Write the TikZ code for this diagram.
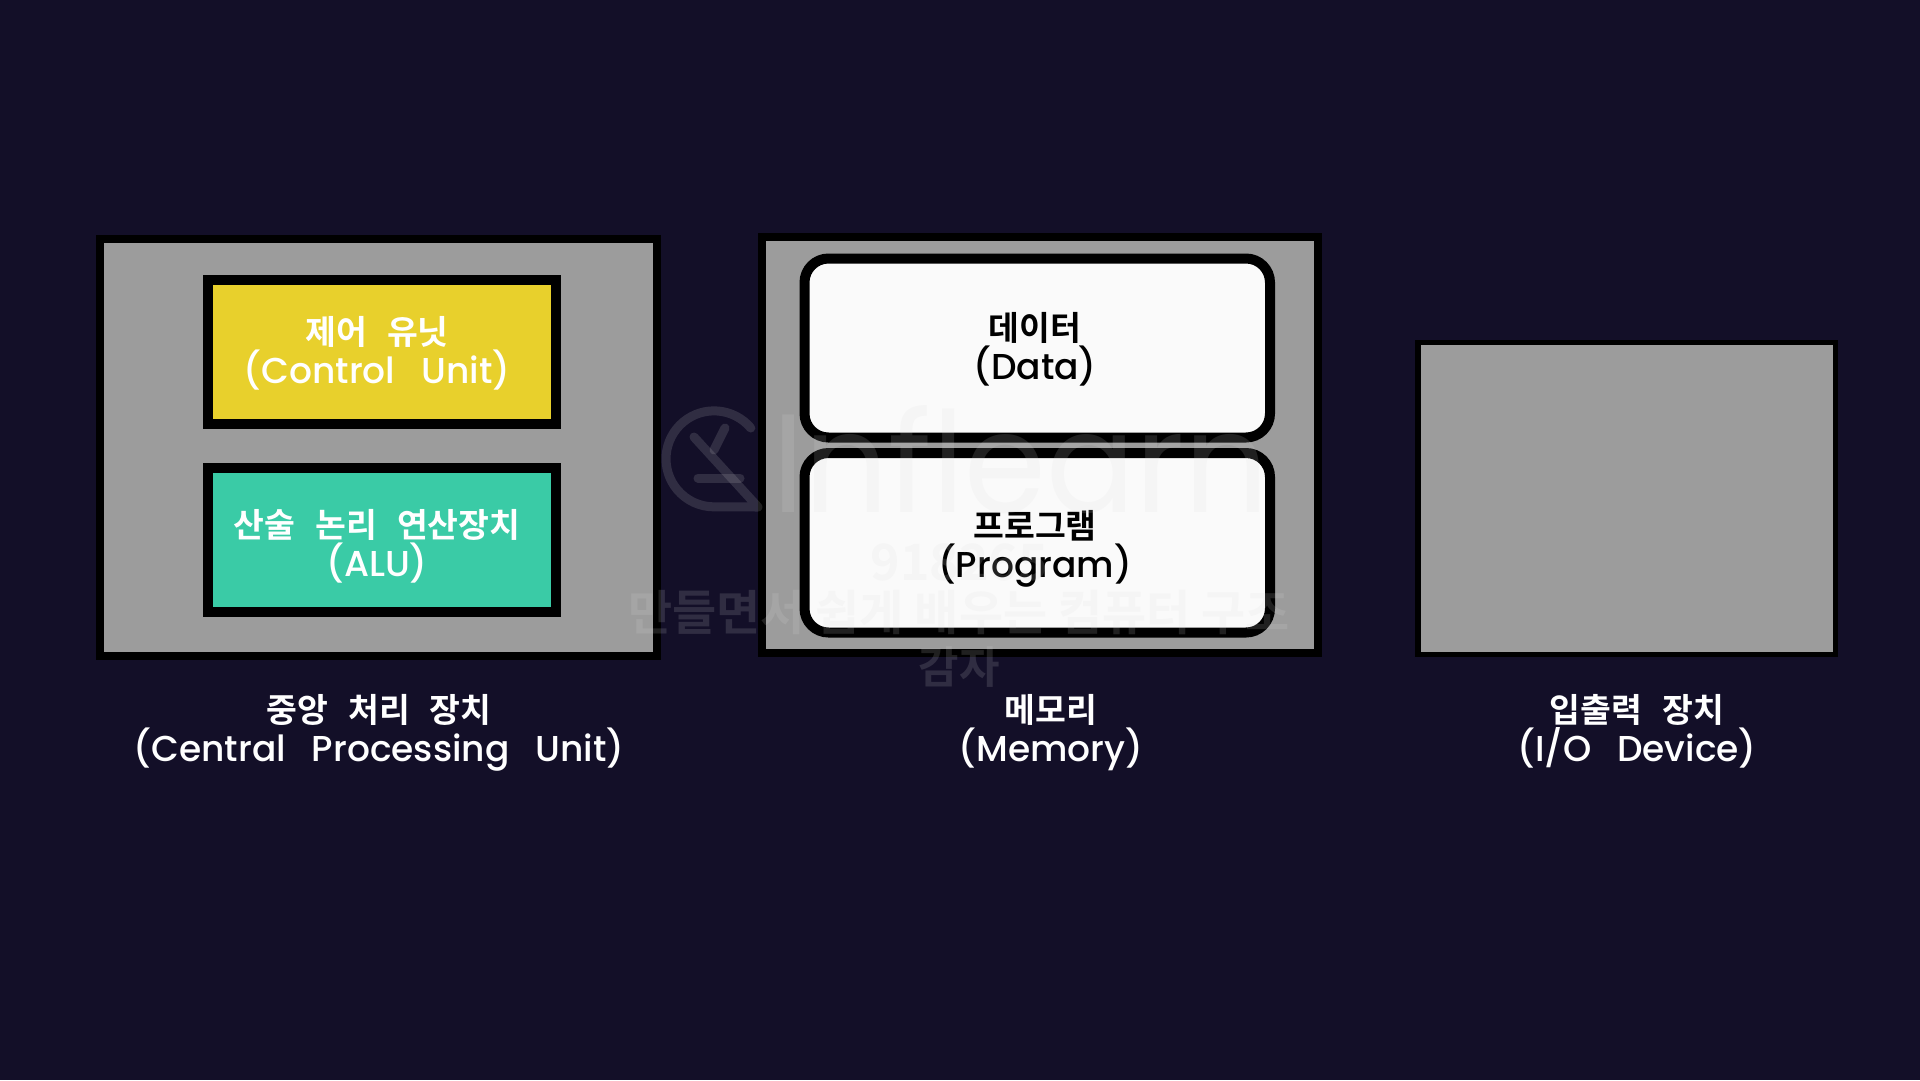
\documentclass[tikz,border=0pt]{standalone}
\usepackage{fontspec}
\setmainfont{Poppins}
\newfontfamily\enfont{Poppins Medium}
\newfontfamily\kofont{Noto Sans CJK KR Bold}
\definecolor{bgc}{HTML}{130F28}
\definecolor{grayc}{HTML}{9C9C9C}
\definecolor{yellowc}{HTML}{E8D02C}
\definecolor{greenc}{HTML}{3ACBA6}
\definecolor{wmc}{gray}{0.85}
\newcommand{\twolines}[2]{{\fontsize{33.5}{40}\selectfont\kofont\def\gap{\hspace{0.6em}}#1}\\[1pt]{\fontsize{36}{40}\selectfont\enfont\def\gap{\hspace{0.72em}}#2}}
\tikzset{
 x=1pt,y=-1pt,
 panel/.style={draw=black,line width=8pt,fill=grayc,sharp corners},
 solidbox/.style={draw=black,line width=10.5pt},
 roundbox/.style={draw=black,line width=10pt,fill=white!98!black,rounded corners=24pt},
 lab/.style={align=center,inner sep=0pt,text depth=0pt},
 wmark/.style={text=wmc,text opacity=.15,inner sep=0pt},
 wmline/.style={draw=wmc,draw opacity=.15,line width=9pt,line cap=round,line join=round},
}
\begin{document}
\begin{tikzpicture}
\useasboundingbox (0,0) rectangle (1920,1080);
\fill[bgc] (0,0) rectangle (1920,1080);
% panels
\draw[panel] (100,239) rectangle (657,656);
\draw[panel] (762,237) rectangle (1318,653);
\draw[panel,line width=5.5pt] (1418,342.5) rectangle (1835.5,654.5);
% cpu inner
\draw[solidbox,fill=yellowc] (208,280) rectangle (556,424);
\draw[solidbox,fill=greenc] (208,468) rectangle (556,612);
% memory inner
\draw[roundbox] (804.5,258.5) rectangle (1270,437.5);
\draw[roundbox] (804.5,453) rectangle (1270,632.5);
% labels
\node[lab,white] (cu) at (377,350) {\twolines{제어\gap 유닛}{(Control\gap Unit)}};
\node[lab,white] (alu) at (377,543) {\twolines{산술\gap 논리\gap 연산장치}{(ALU)}};
\node[lab,black] (data) at (1035,346) {\twolines{데이터}{(Data)}};
\node[lab,black] (prog) at (1035,544) {\twolines{프로그램}{(Program)}};
\node[lab,white] (cpu) at (379,728) {\twolines{중앙\gap 처리\gap 장치}{(Central\gap Processing\gap Unit)}};
\node[lab,white] (mem) at (1051,728) {\twolines{메모리}{(Memory)}};
\node[lab,white] (io) at (1637,728) {\twolines{입출력\gap 장치}{(I/O\gap Device)}};
% watermark
\draw[wmline] (750.8,428) arc[start angle=-40,end angle=-270,radius=48] -- (758,507) -- (694,437);
\draw[wmline] (725,428) -- (714,450);
\draw[wmline] (698,478) -- (740,478);
\node[wmark,anchor=base west,xscale=.94] (wmlogo) at (772,512) {\fontsize{140}{140}\selectfont Inflearn};
\node[wmark] (wmid) at (959,562) {\fontsize{50}{50}\selectfont\kofont 918265};
\node[wmark] (wmtitle) at (959,613) {\fontsize{48}{50}\selectfont\kofont 만들면서 쉽게 배우는 컴퓨터 구조};
\node[wmark] (wmname) at (959,667) {\fontsize{44}{50}\selectfont\kofont 감자};
\end{tikzpicture}
\end{document}
